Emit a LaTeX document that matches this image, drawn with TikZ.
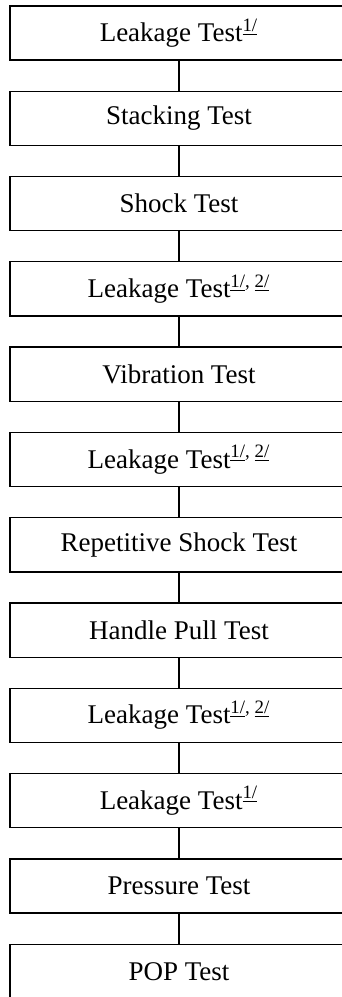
\documentclass[tikz,border=0pt]{standalone}
\usepackage{fontspec}
\setmainfont{Liberation Serif}
\usetikzlibrary{positioning}
\newcommand{\fnref}[1]{\textsuperscript{#1}}

\begin{document}
\begin{tikzpicture}[x=0.5pt,y=-0.5pt] % one unit is one pixel of the reference
\tikzset{testbox/.style={draw,rectangle,line width=0.65pt,outer sep=0pt,minimum width=169pt,minimum height=27.1pt,font=\fontsize{13.5}{15}\selectfont}} % all boxes alike
\tikzset{link/.style={line width=0.65pt}}
\tikzset{node distance=15.55pt}
\clip (0,0) rectangle (342,997); % boxes run off the right and bottom edges
\node[testbox] (leakA) at (179,33) {Leakage Test\fnref{\underline{1/}}};
\node[testbox,below=of leakA] (stack) {Stacking Test};
\node[testbox,below=of stack] (shock) {Shock Test};
\node[testbox,below=of shock] (leakB) {Leakage Test\fnref{\underline{1/}, \underline{2/}}};
\node[testbox,below=of leakB] (vibr) {Vibration Test};
\node[testbox,below=of vibr] (leakC) {Leakage Test\fnref{\underline{1/}, \underline{2/}}};
\node[testbox,below=of leakC] (repshock) {Repetitive Shock Test};
\node[testbox,below=of repshock] (handle) {Handle Pull Test};
\node[testbox,below=of handle] (leakD) {Leakage Test\fnref{\underline{1/}, \underline{2/}}};
\node[testbox,below=of leakD] (leakE) {Leakage Test\fnref{\underline{1/}}};
\node[testbox,below=of leakE] (press) {Pressure Test};
\node[testbox,below=of press] (pop) {POP Test};
% connectors
\draw[link] (leakA) -- (stack);
\draw[link] (stack) -- (shock);
\draw[link] (shock) -- (leakB);
\draw[link] (leakB) -- (vibr);
\draw[link] (vibr) -- (leakC);
\draw[link] (leakC) -- (repshock);
\draw[link] (repshock) -- (handle);
\draw[link] (handle) -- (leakD);
\draw[link] (leakD) -- (leakE);
\draw[link] (leakE) -- (press);
\draw[link] (press) -- (pop);
\end{tikzpicture}
\end{document}
